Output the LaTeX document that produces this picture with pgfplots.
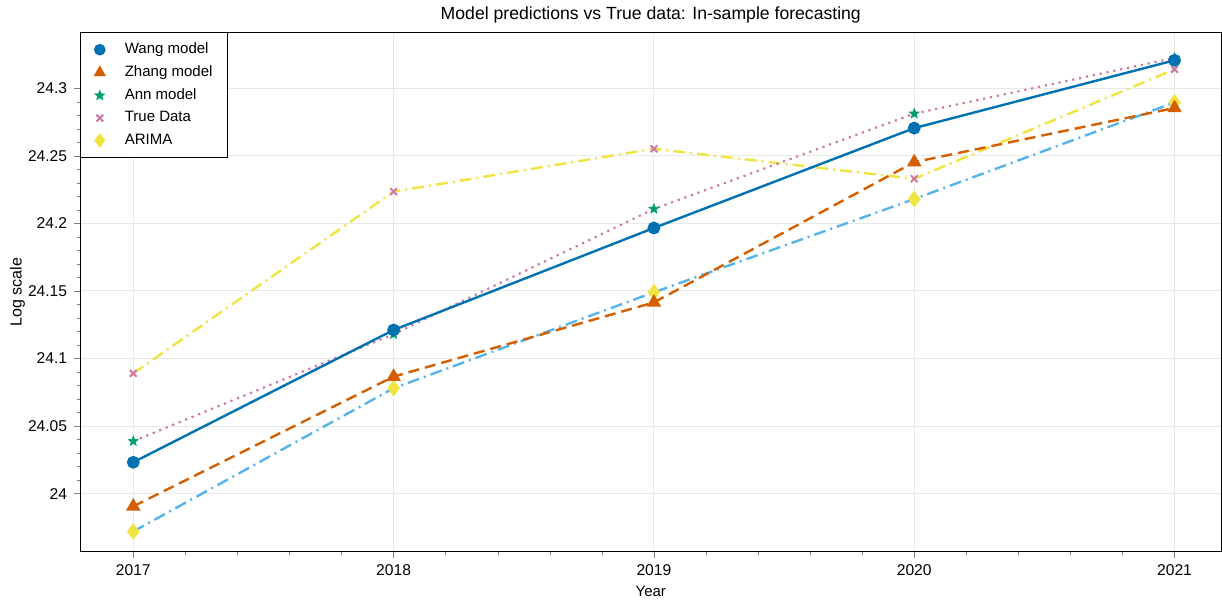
\documentclass[border=0pt]{standalone}
\usepackage{pgfplots}
\pgfplotsset{compat=1.18}
\usepackage{fontspec}
\setmainfont{Liberation Sans}
\definecolor{wangc}{RGB}{0,114,178}
\definecolor{zhangc}{RGB}{213,94,0}
\definecolor{annc}{RGB}{0,158,115}
\definecolor{truec}{RGB}{204,121,167}
\definecolor{arimac}{RGB}{240,228,66}
\definecolor{skyc}{RGB}{86,180,233}
\pgfdeclareplotmark{pstar}{%
  \pgfpathmoveto{\pgfpointpolar{90}{\pgfplotmarksize}}%
  \pgfpathlineto{\pgfpointpolar{126}{0.42\pgfplotmarksize}}%
  \pgfpathlineto{\pgfpointpolar{162}{\pgfplotmarksize}}%
  \pgfpathlineto{\pgfpointpolar{198}{0.42\pgfplotmarksize}}%
  \pgfpathlineto{\pgfpointpolar{234}{\pgfplotmarksize}}%
  \pgfpathlineto{\pgfpointpolar{270}{0.42\pgfplotmarksize}}%
  \pgfpathlineto{\pgfpointpolar{306}{\pgfplotmarksize}}%
  \pgfpathlineto{\pgfpointpolar{342}{0.42\pgfplotmarksize}}%
  \pgfpathlineto{\pgfpointpolar{18}{\pgfplotmarksize}}%
  \pgfpathlineto{\pgfpointpolar{54}{0.42\pgfplotmarksize}}%
  \pgfpathclose
  \pgfusepathqfillstroke
}
\begin{document}
\begin{tikzpicture}
\begin{axis}[
  scale only axis,
  width=570pt, height=259.5pt,
  xmin=2016.796, xmax=2021.18,
  ymin=23.957, ymax=24.3415,
  xtick={2017,2018,2019,2020,2021},
  ytick={24,24.05,24.1,24.15,24.2,24.25,24.3},
  minor x tick num=4, minor y tick num=4,
  tick pos=left, tick align=outside,
  major tick length=3pt, minor tick length=1.8pt,
  /pgf/number format/assume math mode=true,
  x tick label style={/pgf/number format/1000 sep={}},
  y tick label style={/pgf/number format/.cd, fixed, precision=2},
  tick label style={font=\fontsize{7.8}{9}\selectfont},
  grid=major,
  major grid style={gray!18, line width=0.5pt},
  axis line style={black, line width=0.6pt},
  title={Model predictions vs True data: In-sample forecasting},
  title style={font=\fontsize{8.8}{10}\selectfont, yshift=-5pt},
  xlabel={Year}, ylabel={Log scale},
  xlabel style={font=\fontsize{7.5}{8}\selectfont, yshift=1.5pt},
  ylabel style={font=\fontsize{8}{9}\selectfont, inner ysep=5pt, yshift=-7pt},
  legend style={at={(0,1)}, anchor=north west, draw=black, fill=white,
    font=\fontsize{7.5}{9}\selectfont, row sep=0.5pt, inner xsep=5.5pt, inner ysep=3pt,
    line width=0.6pt},
  legend cell align=left,
  legend image code/.code={\path (0pt,0pt) (13.5pt,0pt); \draw[#1] plot coordinates {(3.5pt,0pt)};},
]
% ARIMA (sky blue dash-dot line, yellow diamonds)
\addplot[forget plot, color=skyc, line width=1.2pt,
  dash pattern=on 6pt off 2.5pt on 1pt off 2.5pt,
  mark=diamond*, mark size=3.2pt, mark options={solid, draw=arimac, fill=arimac}]
  coordinates {(2017,23.972) (2018,24.078) (2019,24.149) (2020,24.218) (2021,24.2895)};
% True data (yellow dash-dot line, pink x)
\addplot[forget plot, color=arimac, line width=1.2pt,
  dash pattern=on 6pt off 2.5pt on 1pt off 2.5pt,
  mark=x, mark size=2.4pt, mark options={solid, draw=truec, line width=1pt}]
  coordinates {(2017,24.089) (2018,24.2235) (2019,24.2552) (2020,24.233) (2021,24.314)};
% Zhang (orange dashed, triangles)
\addplot[forget plot, color=zhangc, line width=1.2pt,
  dash pattern=on 5.5pt off 3pt,
  mark=triangle*, mark size=3pt, mark options={solid, draw=zhangc, fill=zhangc}]
  coordinates {(2017,23.9906) (2018,24.0866) (2019,24.1415) (2020,24.2453) (2021,24.2854)};
% Ann (pink dotted line, teal stars)
\addplot[forget plot, color=truec, line width=1.1pt,
  dash pattern=on 1.1pt off 2.4pt,
  mark=pstar, mark size=2.6pt, mark options={solid, draw=annc, fill=annc, line width=0.3pt}]
  coordinates {(2017,24.0388) (2018,24.118) (2019,24.2107) (2020,24.2812) (2021,24.3225)};
% Wang (blue solid, circles)
\addplot[forget plot, color=wangc, line width=1.2pt,
  mark=*, mark size=2.6pt, mark options={solid, draw=wangc, fill=wangc}]
  coordinates {(2017,24.0232) (2018,24.1211) (2019,24.1966) (2020,24.2705) (2021,24.3207)};
\addlegendimage{mark=*, mark size=2.6pt, draw=wangc, fill=wangc}
\addlegendentry{Wang model}
\addlegendimage{mark=triangle*, mark size=3pt, draw=zhangc, fill=zhangc}
\addlegendentry{Zhang model}
\addlegendimage{mark=pstar, mark size=2.6pt, draw=annc, fill=annc, line width=0.3pt}
\addlegendentry{Ann model}
\addlegendimage{mark=x, mark size=2.4pt, draw=truec, line width=1pt}
\addlegendentry{True Data}
\addlegendimage{mark=diamond*, mark size=3.2pt, draw=arimac, fill=arimac}
\addlegendentry{ARIMA}
\end{axis}
\end{tikzpicture}
\end{document}
